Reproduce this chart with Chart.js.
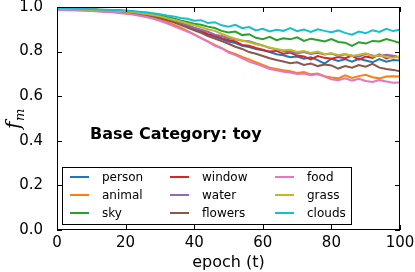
<!DOCTYPE html>
<html>
<head>
<meta charset="utf-8">
<script src="https://cdn.jsdelivr.net/npm/chart.js@4/dist/chart.umd.min.js"></script>
<style>
  html, body { margin: 0; padding: 0; background: #fff; }
  #wrap { width: 415px; height: 272px; }
</style>
</head>
<body>
<div id="wrap"><canvas id="chart-fm" width="415" height="272"></canvas></div>
<script>
'use strict';

// epochs sampled every 2 steps
const epochs = [0, 2, 4, 6, 8, 10, 12, 14, 16, 18, 20, 22, 24, 26, 28, 30, 32, 34, 36, 38, 40,
    42, 44, 46, 48, 50, 52, 54, 56, 58, 60, 62, 64, 66, 68, 70, 72, 74, 76, 78, 80,
    82, 84, 86, 88, 90, 92, 94, 96, 98, 100];

const categories = ['person', 'animal', 'sky', 'window', 'water', 'flowers', 'food', 'grass', 'clouds'];

const person = [0.992, 0.991, 0.990, 0.989, 0.988, 0.987, 0.986, 0.984, 0.982, 0.980, 0.978, 0.975, 0.971, 0.966, 0.960, 0.953, 0.945, 0.935, 0.925, 0.913, 0.900,
    0.888, 0.877, 0.866, 0.855, 0.845, 0.838, 0.826, 0.820, 0.812, 0.806, 0.798, 0.788, 0.784, 0.775, 0.778, 0.768, 0.774, 0.762, 0.746, 0.768,
    0.758, 0.766, 0.755, 0.768, 0.760, 0.752, 0.766, 0.755, 0.762, 0.760];
const animal = [0.990, 0.989, 0.988, 0.987, 0.986, 0.985, 0.983, 0.981, 0.979, 0.977, 0.974, 0.970, 0.965, 0.959, 0.952, 0.943, 0.933, 0.921, 0.908, 0.893, 0.877,
    0.860, 0.846, 0.830, 0.816, 0.800, 0.790, 0.776, 0.765, 0.752, 0.740, 0.728, 0.722, 0.716, 0.712, 0.704, 0.708, 0.698, 0.702, 0.690, 0.684,
    0.680, 0.694, 0.682, 0.690, 0.696, 0.685, 0.680, 0.688, 0.690, 0.688];
const sky = [0.995, 0.994, 0.993, 0.992, 0.991, 0.990, 0.988, 0.987, 0.986, 0.984, 0.982, 0.979, 0.976, 0.972, 0.967, 0.962, 0.955, 0.949, 0.940, 0.933, 0.925,
    0.920, 0.912, 0.906, 0.893, 0.886, 0.890, 0.874, 0.878, 0.862, 0.856, 0.866, 0.851, 0.860, 0.855, 0.864, 0.848, 0.858, 0.852, 0.845, 0.856,
    0.843, 0.840, 0.826, 0.842, 0.836, 0.848, 0.845, 0.856, 0.848, 0.838];
const windowCat = [0.995, 0.994, 0.993, 0.992, 0.990, 0.989, 0.988, 0.986, 0.985, 0.983, 0.980, 0.977, 0.973, 0.968, 0.962, 0.955, 0.947, 0.938, 0.928, 0.918, 0.905,
    0.895, 0.878, 0.872, 0.860, 0.852, 0.845, 0.830, 0.826, 0.816, 0.808, 0.800, 0.803, 0.790, 0.796, 0.782, 0.778, 0.765, 0.780, 0.772, 0.768,
    0.776, 0.770, 0.782, 0.764, 0.778, 0.772, 0.788, 0.770, 0.780, 0.772];
const water = [0.988, 0.988, 0.987, 0.986, 0.985, 0.984, 0.983, 0.982, 0.980, 0.978, 0.976, 0.973, 0.969, 0.964, 0.959, 0.952, 0.944, 0.936, 0.926, 0.917, 0.907,
    0.898, 0.889, 0.876, 0.870, 0.861, 0.855, 0.849, 0.846, 0.836, 0.828, 0.816, 0.810, 0.803, 0.800, 0.793, 0.798, 0.789, 0.795, 0.787, 0.791,
    0.780, 0.788, 0.782, 0.777, 0.790, 0.783, 0.780, 0.786, 0.782, 0.775];
const flowers = [0.993, 0.992, 0.991, 0.990, 0.989, 0.988, 0.986, 0.985, 0.983, 0.980, 0.978, 0.974, 0.970, 0.965, 0.958, 0.950, 0.941, 0.931, 0.920, 0.908, 0.895,
    0.884, 0.870, 0.858, 0.847, 0.835, 0.822, 0.812, 0.798, 0.790, 0.780, 0.770, 0.762, 0.756, 0.748, 0.752, 0.740, 0.746, 0.735, 0.742, 0.738,
    0.724, 0.735, 0.728, 0.740, 0.732, 0.745, 0.728, 0.722, 0.718, 0.712];
const food = [0.987, 0.986, 0.985, 0.984, 0.983, 0.982, 0.980, 0.978, 0.976, 0.973, 0.970, 0.966, 0.961, 0.955, 0.947, 0.938, 0.927, 0.915, 0.902, 0.890, 0.876,
    0.860, 0.845, 0.826, 0.815, 0.796, 0.784, 0.770, 0.755, 0.745, 0.734, 0.722, 0.716, 0.710, 0.706, 0.700, 0.702, 0.694, 0.698, 0.688, 0.676,
    0.672, 0.680, 0.670, 0.678, 0.668, 0.664, 0.672, 0.666, 0.660, 0.662];
const grass = [0.993, 0.992, 0.991, 0.990, 0.989, 0.988, 0.987, 0.986, 0.984, 0.982, 0.980, 0.977, 0.973, 0.969, 0.964, 0.958, 0.950, 0.943, 0.935, 0.926, 0.918,
    0.909, 0.900, 0.893, 0.880, 0.868, 0.858, 0.850, 0.842, 0.833, 0.826, 0.818, 0.812, 0.806, 0.808, 0.798, 0.803, 0.794, 0.800, 0.788, 0.792,
    0.785, 0.789, 0.780, 0.786, 0.792, 0.778, 0.784, 0.776, 0.772, 0.778];
const clouds = [0.995, 0.994, 0.993, 0.992, 0.991, 0.990, 0.989, 0.988, 0.987, 0.986, 0.984, 0.982, 0.979, 0.976, 0.972, 0.968, 0.962, 0.958, 0.951, 0.947, 0.938,
    0.941, 0.928, 0.932, 0.918, 0.912, 0.920, 0.905, 0.910, 0.895, 0.902, 0.890, 0.898, 0.893, 0.905, 0.892, 0.899, 0.888, 0.900, 0.893, 0.887,
    0.895, 0.884, 0.876, 0.890, 0.882, 0.896, 0.888, 0.902, 0.892, 0.898];

const series = [person, animal, sky, windowCat, water, flowers, food, grass, clouds];
const colors = ['#1f77b4', '#ff7f0e', '#2ca02c', '#d62728', '#9467bd', '#8c564b', '#e377c2', '#bcbd22', '#17becf'];

const xTicks = [0, 20, 40, 60, 80, 100];
const yTicks = [0.0, 0.2, 0.4, 0.6, 0.8, 1.0];

const titleText = 'Base Category: toy';
const xLabel = 'epoch (t)';

const FONT = "'DejaVu Sans', sans-serif";

/**
 * Matplotlib-ish decorations: black frame, inward ticks on all sides,
 * boxed legend in 3 columns, inner title and the f_m axis label.
 */
const mplDecor = {
    id: 'mplDecor',
    afterDatasetsDraw(chart) {
        const ctx = chart.ctx;
        const a = chart.chartArea;
        const xs = chart.scales.x;
        const ys = chart.scales.y;
        const tl = 5;

        ctx.save();
        ctx.strokeStyle = '#000';
        ctx.lineWidth = 1;

        ctx.beginPath();
        xTicks.forEach(v => {
            const px = Math.round(xs.getPixelForValue(v)) + 0.5;
            ctx.moveTo(px, a.bottom); ctx.lineTo(px, a.bottom - tl);
            ctx.moveTo(px, a.top); ctx.lineTo(px, a.top + tl);
        });
        yTicks.forEach(v => {
            const py = Math.round(ys.getPixelForValue(v)) + 0.5;
            ctx.moveTo(a.left, py); ctx.lineTo(a.left + tl, py);
            ctx.moveTo(a.right, py); ctx.lineTo(a.right - tl, py);
        });
        ctx.stroke();

        ctx.strokeRect(Math.round(a.left) + 0.5, Math.round(a.top) + 0.5,
            Math.round(a.right - a.left) - 1, Math.round(a.bottom - a.top) - 1);

        // legend box
        const lx = 62.5, ly = 167.5, lw = 289, lh = 57;
        ctx.fillStyle = '#fff';
        ctx.fillRect(lx, ly, lw, lh);
        ctx.strokeRect(lx, ly, lw, lh);

        const colX = [70, 170, 275];
        const rowY = [177, 195, 213];
        ctx.font = '12px ' + FONT;
        ctx.textBaseline = 'middle';
        ctx.textAlign = 'left';
        chart.data.datasets.forEach((ds, i) => {
            const cx = colX[Math.floor(i / 3)];
            const cy = rowY[i % 3];
            ctx.strokeStyle = ds.borderColor;
            ctx.lineWidth = 2;
            ctx.beginPath();
            ctx.moveTo(cx, cy);
            ctx.lineTo(cx + 19, cy);
            ctx.stroke();
            ctx.fillStyle = '#000';
            ctx.fillText(ds.label, cx + 32, cy + 1);
        });

        // inner title
        ctx.font = 'bold 16px ' + FONT;
        ctx.fillStyle = '#000';
        ctx.textBaseline = 'alphabetic';
        ctx.fillText(titleText, 90, 139);

        // y label f_m
        ctx.translate(20, 120);
        ctx.rotate(-Math.PI / 2);
        ctx.font = "italic 20px 'DejaVu Serif', serif";
        ctx.textAlign = 'left';
        ctx.fillText('f', -9, 0);
        ctx.font = "italic 13px 'DejaVu Serif', serif";
        ctx.fillText('m', -1, 4);
        ctx.restore();
    }
};

(function initChart() {
    const canvas = document.getElementById('chart-fm');

    const datasets = series.reduce((acc, values, idx) => {
        acc.push({
            label: categories[idx],
            data: values.map((v, k) => ({x: epochs[k], y: v})),
            borderColor: colors[idx],
            backgroundColor: colors[idx],
            borderWidth: 2,
            pointRadius: 0,
            fill: false,
            tension: 0,
            order: series.length - 1 - idx
        });
        return acc;
    }, []);

    new Chart(canvas.getContext('2d'), {
        type: 'line',
        data: {datasets: datasets},
        plugins: [mplDecor],
        options: {
            responsive: false,
            animation: false,
            events: [],
            layout: {padding: {top: 7, right: 15, left: 0, bottom: 0}},
            plugins: {legend: {display: false}, tooltip: {enabled: false}},
            scales: {
                x: {
                    type: 'linear',
                    min: 0,
                    max: 100,
                    afterBuildTicks: s => { s.ticks = xTicks.map(v => ({value: v})); },
                    afterFit: s => { s.height = 42; s.paddingLeft = 0; s.paddingRight = 0; },
                    grid: {display: false},
                    border: {display: false},
                    ticks: {
                        color: '#000',
                        font: {family: FONT, size: 15},
                        padding: -4,
                        maxRotation: 0,
                        callback: v => String(v)
                    },
                    title: {
                        display: true,
                        text: xLabel,
                        color: '#000',
                        font: {family: FONT, size: 16},
                        padding: {top: 0, bottom: 0}
                    }
                },
                y: {
                    min: 0,
                    max: 1,
                    afterBuildTicks: s => { s.ticks = yTicks.map(v => ({value: v})); },
                    afterFit: s => { s.width = 57; s.paddingTop = 0; s.paddingBottom = 0; },
                    grid: {display: false},
                    border: {display: false},
                    ticks: {
                        color: '#000',
                        font: {family: FONT, size: 15},
                        padding: 6,
                        callback: v => v.toFixed(1)
                    }
                }
            }
        }
    });
})();
</script>
</body>
</html>
